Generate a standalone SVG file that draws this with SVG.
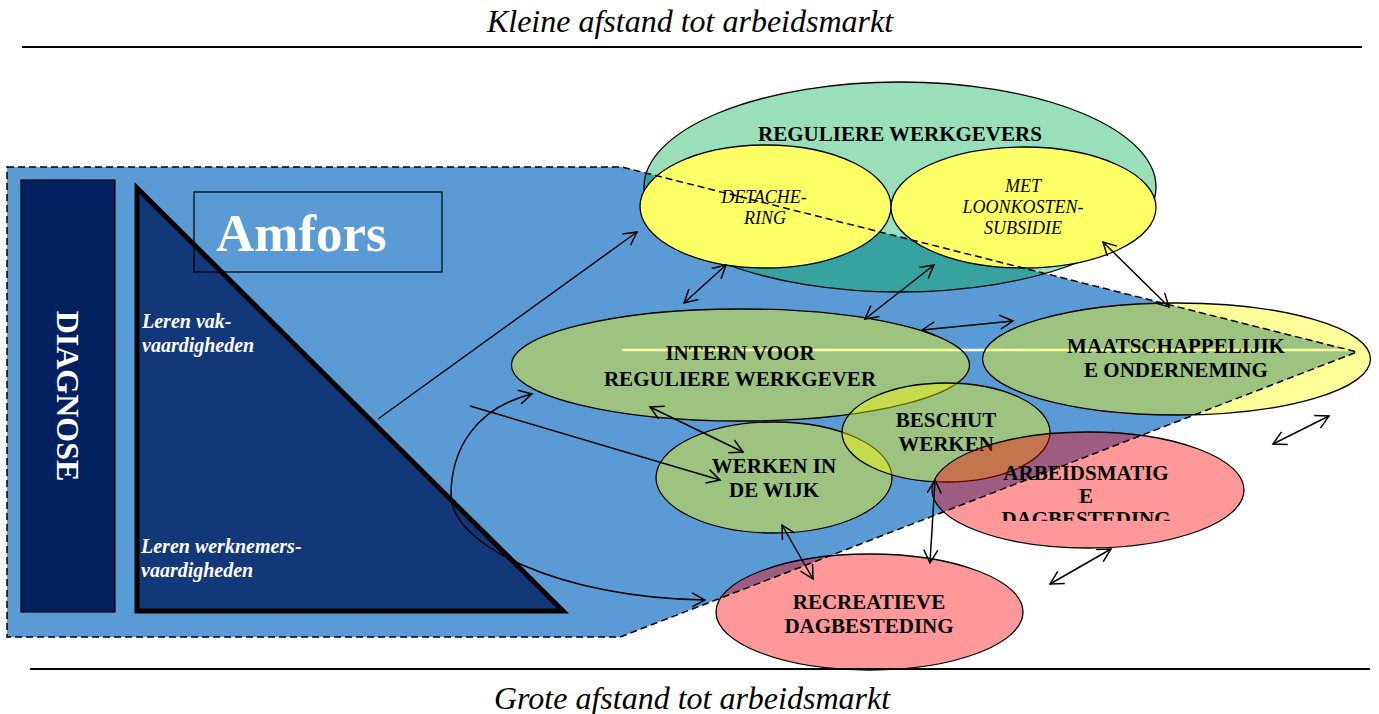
<svg xmlns="http://www.w3.org/2000/svg" width="1379" height="714" viewBox="0 0 1379 714">
<style>
.serif{font-family:"Liberation Serif","Times New Roman",serif}
.title{font-family:"Liberation Serif","Times New Roman",serif;font-style:italic;font-size:32px;fill:#000;text-anchor:middle}
.lbl{font-family:"Liberation Serif","Times New Roman",serif;font-weight:bold;font-size:21px;fill:#000;text-anchor:middle}
.it{font-family:"Liberation Serif","Times New Roman",serif;font-style:italic;font-size:18px;fill:#000;text-anchor:middle}
.side{font-family:"Liberation Serif","Times New Roman",serif;font-style:italic;font-weight:bold;font-size:20px;fill:#fff}
.edge{fill:none;stroke:#000;stroke-width:1.5;marker-end:url(#ah)}
.dbl{marker-start:url(#ah)}
.ell{stroke:#000;stroke-width:1.3}
.grn{fill:#FFFF00;fill-opacity:0.4}
.red{fill:#FF0000;fill-opacity:0.4}
.yel{fill:#FFFF66}
.rule{stroke:#000;stroke-width:2}
</style>
<defs>
<marker id="ah" markerUnits="userSpaceOnUse" markerWidth="16" markerHeight="16" refX="13" refY="7" orient="auto-start-reverse" viewBox="-1 -1 16 16">
<path d="M0,0 L13,7 L0,14" fill="none" stroke="#000" stroke-width="1.5"/>
</marker>
<clipPath id="clipArb"><rect x="900" y="420" width="400" height="101"/></clipPath>
</defs>

<g id="titles">
<text class="title" x="690" y="32">Kleine afstand tot arbeidsmarkt</text>
<line class="rule" x1="22" y1="47" x2="1362" y2="47"/>
<text class="title" x="692" y="709">Grote afstand tot arbeidsmarkt</text>
</g>

<g id="amfors-area">
<polygon points="7,167 622,167 1357,352 620,637 7,637" fill="#5B9BD5"/>
<line x1="622" y1="350" x2="1357" y2="350" stroke="#fff" stroke-width="2.5"/>
</g>

<g id="diagnose">
<rect x="21" y="180" width="94" height="432" fill="#002060" stroke="#000" stroke-width="1.2"/>
<text class="serif" transform="translate(57,396) rotate(90)" text-anchor="middle" font-size="32" font-weight="bold" fill="#fff">DIAGNOSE</text>
</g>

<g id="leren">
<polygon points="137,188 137,611 563,611" fill="#13387A" stroke="#000" stroke-width="5" stroke-linejoin="miter"/>
<text class="side" x="142" y="328">Leren vak-</text>
<text class="side" x="142" y="352">vaardigheden</text>
<text class="side" x="141" y="553">Leren werknemers-</text>
<text class="side" x="141" y="577">vaardigheden</text>
</g>

<g id="amfors">
<rect x="194" y="192" width="248" height="80" fill="none" stroke="#000" stroke-width="1.2"/>
<text class="serif" x="216" y="251" font-size="53" font-weight="bold" fill="#fff">Amfors</text>
</g>

<g id="reguliere-werkgevers">
<ellipse class="ell" cx="900" cy="187" rx="256" ry="105" fill="#00B050" fill-opacity="0.4"/>
<text class="lbl" x="900" y="141">REGULIERE WERKGEVERS</text>
</g>

<g id="detachering">
<ellipse class="ell yel" cx="765.5" cy="206.5" rx="125.5" ry="61.5"/>
<text class="it" x="764" y="203">DETACHE-</text>
<text class="it" x="765" y="224">RING</text>
</g>

<g id="loonkostensubsidie">
<ellipse class="ell yel" cx="1023.5" cy="207.5" rx="132.5" ry="60.5"/>
<text class="it" x="1023" y="192">MET</text>
<text class="it" x="1023" y="213">LOONKOSTEN-</text>
<text class="it" x="1023" y="234">SUBSIDIE</text>
</g>

<g id="intern">
<ellipse class="ell grn" cx="740.5" cy="365" rx="229" ry="56"/>
<text class="lbl" x="740" y="360">INTERN VOOR</text>
<text class="lbl" x="740" y="386">REGULIERE WERKGEVER</text>
</g>

<g id="werken-in-de-wijk">
<ellipse class="ell grn" cx="774" cy="477.5" rx="118" ry="55.5"/>
<text class="lbl" x="774" y="473">WERKEN IN</text>
<text class="lbl" x="774" y="497">DE WIJK</text>
</g>

<g id="beschut-werken">
<ellipse class="ell grn" cx="946" cy="432.5" rx="104" ry="49.5"/>
<text class="lbl" x="946" y="427">BESCHUT</text>
<text class="lbl" x="946" y="451">WERKEN</text>
</g>

<g id="maatschappelijke-onderneming">
<ellipse class="ell grn" cx="1176.5" cy="359" rx="194" ry="56"/>
<text class="lbl" x="1176" y="353">MAATSCHAPPELIJIK</text>
<text class="lbl" x="1176" y="377">E ONDERNEMING</text>
</g>

<g id="arbeidsmatige-dagbesteding">
<ellipse class="ell red" cx="1088" cy="490" rx="156" ry="58"/>
<g clip-path="url(#clipArb)">
<text class="lbl" x="1086" y="480">ARBEIDSMATIG</text>
<text class="lbl" x="1086" y="503">E</text>
<text class="lbl" x="1086" y="526">DAGBESTEDING</text>
</g>
</g>

<g id="recreatieve-dagbesteding">
<ellipse class="ell red" cx="869.5" cy="612" rx="153.5" ry="58"/>
<text class="lbl" x="869" y="609">RECREATIEVE</text>
<text class="lbl" x="869" y="633">DAGBESTEDING</text>
</g>

<g id="amfors-border">
<polygon points="7,167 622,167 1357,352 620,637 7,637" fill="none" stroke="#000" stroke-width="1.5" stroke-dasharray="7 4"/>
<line class="rule" x1="30" y1="669" x2="1370" y2="669"/>
</g>

<g id="connectors">
<path class="edge" d="M378,419 L637,232"/>
<path class="edge dbl" d="M726,265 L684,303"/>
<path class="edge dbl" d="M934,265 L865,319"/>
<path class="edge dbl" d="M922,330 L1013,321"/>
<path class="edge dbl" d="M1103,242 L1169,307"/>
<path class="edge" d="M470,406 L720,480"/>
<path class="edge dbl" d="M650,407 L743,452"/>
<path class="edge dbl" d="M532,394 C475,408 451,450 451,495 C451,545 560,598 705,600"/>
<path class="edge dbl" d="M782,525 L813,579"/>
<path class="edge dbl" d="M935,480 L930,563"/>
<path class="edge dbl" d="M1273,444 L1329,416"/>
<path class="edge dbl" d="M1050,584 L1111,549"/>
</g>
</svg>
